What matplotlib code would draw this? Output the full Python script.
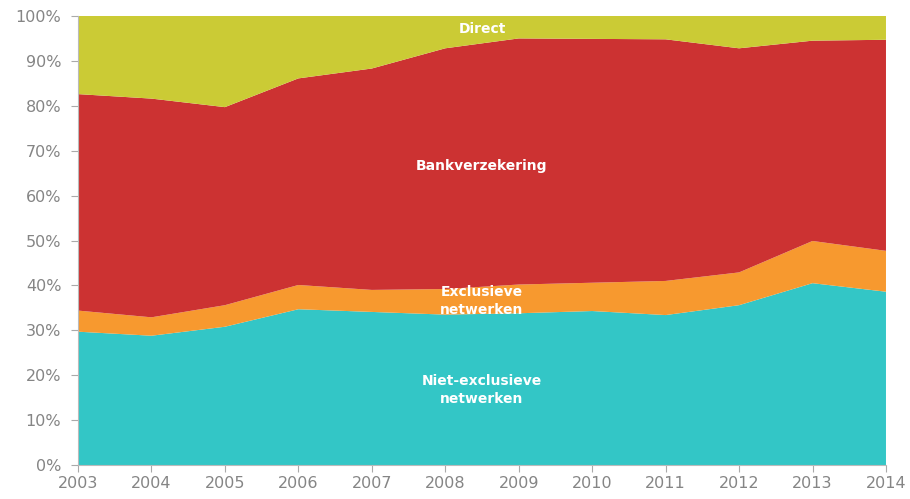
import matplotlib
matplotlib.use("Agg")
import matplotlib.pyplot as plt
from matplotlib.ticker import FuncFormatter

years = [2003, 2004, 2005, 2006, 2007, 2008, 2009, 2010, 2011, 2012, 2013, 2014]
niet_exclusief = [29.7, 28.8, 30.8, 34.7, 34.1, 33.5, 33.8, 34.3, 33.4, 35.6, 40.5, 38.6]
exclusief = [4.7, 4.1, 4.8, 5.4, 4.9, 5.7, 6.4, 6.3, 7.6, 7.3, 9.4, 9.1]
bankverzekering = [48.2, 48.7, 44.1, 46.0, 49.3, 53.6, 54.8, 54.3, 53.8, 49.9, 44.6, 47.0]
direct = [17.4, 18.4, 20.3, 13.9, 11.7, 7.2, 5.0, 5.1, 5.2, 7.2, 5.5, 5.3]

colors = ["#33c6c6", "#f7992f", "#cc3232", "#cbcb35"]

fig = plt.figure(figsize=(9.1, 4.99), dpi=100)
ax = fig.add_axes([0.0857, 0.068, 0.8879, 0.90])

ax.stackplot(years, niet_exclusief, exclusief, bankverzekering, direct,
             colors=colors, linewidth=0)

ax.set_xlim(2003, 2014)
ax.set_ylim(0, 100)
ax.set_xticks(years)
ax.set_yticks(range(0, 101, 10))
ax.yaxis.set_major_formatter(FuncFormatter(lambda v, p: f"{int(v)}%"))

for side in ["top", "right"]:
    ax.spines[side].set_visible(False)
for side in ["left", "bottom"]:
    ax.spines[side].set_color("#bbbbbb")
ax.tick_params(colors="#aaaaaa", labelcolor="#858585", labelsize=11.5, length=5)
ax.tick_params(axis="x", pad=3)
ax.tick_params(axis="y", pad=7)

lbl = dict(color="white", fontweight="bold", fontsize=10, ha="center", va="center")
ax.text(2008.5, 97.0, "Direct", **lbl)
ax.text(2008.5, 66.6, "Bankverzekering", **lbl)
ax.text(2008.5, 36.5, "Exclusieve\nnetwerken", linespacing=1.3, **lbl)
ax.text(2008.5, 16.7, "Niet-exclusieve\nnetwerken", linespacing=1.3, **lbl)

fig.savefig("out.png", dpi=100)
